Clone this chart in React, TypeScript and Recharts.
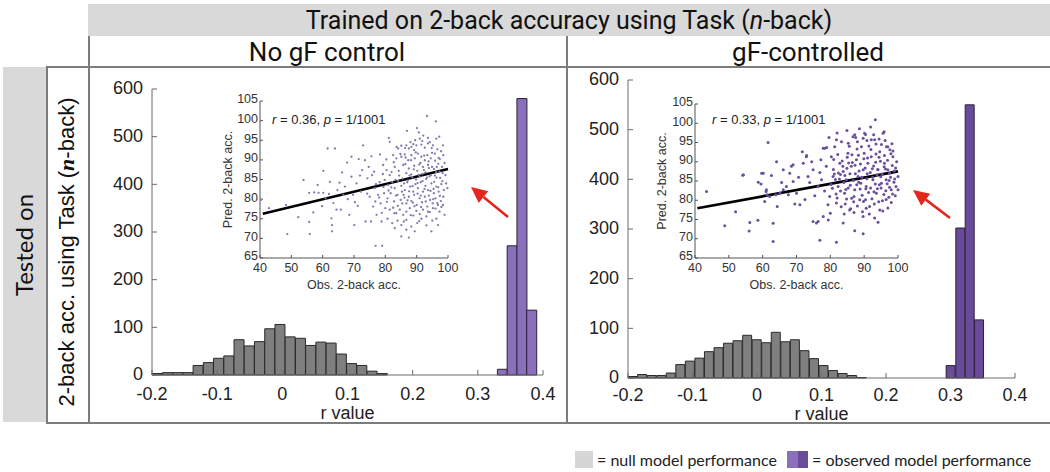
import React from 'react';
import { ComposedChart, Bar, Cell, XAxis, YAxis, ScatterChart, Scatter, ReferenceLine } from 'recharts';

const SANS = '"Liberation Sans", Arial, sans-serif';
const HEAD = 'Roboto, "Liberation Sans", sans-serif';
const ROUND = 'Lato, "Noto Sans", sans-serif';

// histogram axes
const rTicks = [-0.2, -0.1, 0, 0.1, 0.2, 0.3, 0.4];
const countTicks = [0, 100, 200, 300, 400, 500, 600];
// inset axes
const obsTicks = [40, 50, 60, 70, 80, 90, 100];
const predTicks = [65, 70, 75, 80, 85, 90, 95, 100, 105];

// No gF control
const nullBinsA = [-0.1922, -0.1765, -0.1608, -0.1451, -0.1294, -0.1137, -0.098, -0.0823, -0.0666, -0.0509, -0.0352, -0.0195, -0.0038, 0.0119, 0.0276, 0.0433, 0.059, 0.0747, 0.0904, 0.1061, 0.1218, 0.1375, 0.1532];
const nullCountsA = [3, 5, 5, 5, 20, 26, 35, 40, 74, 61, 70, 97, 106, 80, 77, 62, 69, 67, 44, 24, 20, 8, 3];
const obsBinsA = [0.3375, 0.3525, 0.3675, 0.3825];
const obsCountsA = [12, 271, 580, 136];

// gF-controlled
const nullBinsB = [-0.1926, -0.1778, -0.163, -0.1482, -0.1334, -0.1186, -0.1038, -0.089, -0.0742, -0.0594, -0.0446, -0.0298, -0.015, -0.0002, 0.0146, 0.0294, 0.0442, 0.059, 0.0738, 0.0886, 0.1034, 0.1182, 0.133, 0.1478, 0.1626];
const nullCountsB = [3, 7, 5, 5, 10, 27, 34, 40, 53, 61, 70, 75, 86, 77, 71, 92, 73, 77, 55, 39, 25, 15, 9, 5, 1];
const obsBinsB = [0.3005, 0.3155, 0.33, 0.3445];
const obsCountsB = [25, 302, 550, 117];

// regression lines in the insets [obs, pred]
const fitA = [[40.9, 76.3], [100, 87.7]];
const fitB = [[40.7, 77.9], [100, 87.5]];

// observed vs predicted 2-back accuracy, no gF control
const scatterA = [
  [93.3, 101.2], [96.1, 99.8], [90.1, 98.1], [86.9, 97.4], [81.1, 95.6], [81.4, 94.6], [72.9, 93.7], [61.6, 92.9], [63.9, 92.9], [90.7, 97.0], [91.0, 95.4], [93.6, 95.6], [96.3, 95.4],
  [84.1, 92.9], [85.1, 93.6], [86.7, 93.7], [87.5, 92.9], [88.3, 93.3], [89.2, 92.5], [89.9, 93.7], [91.5, 93.9], [92.6, 93.1], [93.6, 94.2], [95.2, 93.7], [96.6, 92.7], [98.4, 93.7],
  [78.3, 91.4], [69.2, 90.8], [71.5, 90.2], [73.5, 89.9],
  [82.5, 91.2], [83.5, 90.4], [85.1, 90.8], [86.2, 91.4], [87.3, 89.9], [88.3, 91.2], [89.4, 90.4], [90.4, 91.6], [91.5, 90.8], [92.6, 89.9], [93.4, 91.2], [94.5, 90.4], [95.8, 91.6], [97.0, 90.5], [98.5, 91.2],
  [60.2, 87.2], [66.2, 86.8], [69.2, 85.7], [72.6, 87.4], [74.7, 88.2], [76.4, 87.0], [79.3, 88.7], [80.4, 87.4], [81.4, 86.1], [83.0, 88.2], [84.3, 87.2], [85.7, 88.7], [86.7, 86.6], [87.5, 87.8], [88.3, 86.3], [89.2, 88.5], [90.2, 87.2], [91.0, 85.7], [92.0, 88.2], [92.8, 86.8], [93.6, 88.7], [94.5, 86.1], [95.5, 87.7], [96.3, 85.5], [97.3, 87.0], [98.1, 88.2], [99.2, 86.1],
  [53.9, 84.9], [58.4, 83.6], [62.3, 84.4], [67.1, 83.2], [70.8, 84.0], [74.3, 85.3], [75.8, 86.1], [78.2, 84.3], [79.8, 84.9], [80.9, 83.6], [82.2, 84.3], [83.0, 82.8], [84.1, 84.6], [85.1, 83.4], [86.2, 82.3], [87.0, 84.3], [87.9, 83.2], [88.9, 81.9], [89.6, 83.8], [90.4, 82.8], [91.3, 84.3], [92.0, 81.9], [92.8, 83.4], [93.6, 82.3], [94.7, 84.0], [95.5, 81.5], [96.3, 83.2], [97.0, 81.9], [97.9, 83.8], [98.7, 82.3], [99.8, 82.8],
  [55.7, 81.6], [57.3, 81.7], [58.7, 81.6], [60.2, 81.6], [60.9, 80.2], [62.0, 81.3], [64.7, 82.3], [66.6, 81.1], [69.7, 81.1], [72.2, 81.9], [75.0, 80.6], [76.6, 82.8], [77.7, 81.1], [79.6, 81.5], [80.7, 80.2], [81.7, 81.5], [82.8, 79.4], [83.9, 81.1], [84.9, 79.8], [85.8, 81.1], [86.7, 78.9], [87.5, 80.6], [88.3, 79.5], [89.2, 81.1], [90.0, 78.5], [90.9, 80.2], [91.7, 79.2], [92.6, 80.6], [93.4, 78.1], [94.3, 79.8], [95.1, 78.9], [96.0, 80.2], [96.8, 78.5], [97.7, 79.5], [98.5, 80.6],
  [40.3, 79.8], [42.9, 77.7], [48.3, 78.5], [64.4, 77.3], [65.8, 77.3], [70.3, 79.2], [76.1, 78.1], [78.5, 78.9], [80.0, 77.7], [81.4, 77.3], [82.5, 77.8], [83.5, 76.4], [84.6, 77.3], [85.7, 76.0], [86.7, 76.8], [87.8, 77.7], [88.9, 75.8], [89.9, 77.0], [91.0, 76.2], [92.0, 77.3], [93.1, 75.6], [94.2, 76.7], [95.2, 77.7], [96.3, 75.0], [97.3, 76.8], [98.4, 78.5],
  [52.2, 75.4], [55.7, 74.2], [62.8, 75.1], [68.5, 76.0], [73.7, 74.3], [75.4, 74.3], [77.2, 76.0], [78.8, 74.3], [80.7, 75.0], [82.2, 73.9], [83.9, 74.5], [85.1, 73.4], [86.7, 74.7], [88.3, 73.0], [90.2, 73.9], [91.5, 75.0], [93.1, 73.3], [95.0, 74.5], [96.8, 73.4],
  [48.7, 71.1], [55.9, 71.1], [63.0, 73.4], [63.0, 71.8], [70.1, 73.4], [83.0, 72.6], [86.7, 72.2], [89.4, 71.8], [94.7, 71.8], [85.1, 70.5], [87.5, 70.2], [76.9, 68.1], [79.0, 68.1],
  [85.5, 85.2], [86.4, 88.9], [87.2, 84.8], [88.6, 85.6], [89.1, 87.6], [89.8, 85.0], [90.6, 86.2], [91.2, 89.2], [91.9, 84.6], [92.3, 87.4], [93.0, 85.1], [93.8, 89.6], [94.1, 85.8], [94.9, 88.2], [95.6, 84.4], [96.2, 86.9], [96.9, 89.0], [97.5, 85.4], [98.2, 84.6],
  [86.1, 80.4], [87.6, 82.0], [88.8, 79.1], [90.3, 81.4], [91.4, 78.0], [92.5, 82.6], [93.9, 80.9], [95.4, 82.6], [96.6, 79.0], [97.4, 80.8], [84.4, 86.0], [83.2, 84.9], [82.0, 86.9], [81.0, 82.2], [79.4, 83.1], [78.0, 80.4], [77.0, 83.8], [84.0, 78.3], [85.3, 81.9], [89.5, 95.0], [92.1, 96.2], [94.8, 93.0], [88.0, 94.5], [95.9, 89.8], [97.8, 92.2],
  [79.2, 86.4], [80.3, 90.1], [81.9, 83.0], [82.7, 89.4], [83.4, 80.9], [84.8, 91.5], [85.4, 78.9], [86.0, 84.0], [86.5, 90.6], [87.1, 79.7], [87.7, 86.0], [88.2, 89.9], [88.7, 83.3], [89.3, 78.2], [89.7, 91.9], [90.3, 84.1], [90.8, 88.8], [91.3, 80.9], [91.8, 86.4], [92.4, 91.1],
  [92.9, 79.4], [93.3, 85.5], [93.9, 87.9], [94.4, 82.1], [94.9, 91.8], [95.3, 80.0], [95.8, 86.0], [96.4, 88.2], [96.9, 83.0], [97.4, 90.2], [97.9, 78.0], [98.3, 86.6], [98.9, 89.2], [99.4, 84.0], [86.3, 93.0], [88.9, 94.0], [91.8, 94.8], [94.2, 94.5], [97.2, 95.9], [83.6, 93.3],
  [80.5, 79.3], [82.9, 76.4], [85.9, 74.3], [88.1, 75.9], [90.8, 74.4], [93.6, 76.8], [96.0, 77.6], [98.9, 76.0], [78.9, 76.5], [76.8, 79.4], [74.2, 81.4], [71.2, 78.3], [68.0, 80.0], [65.4, 84.2], [63.4, 79.0], [59.8, 78.2], [57.0, 76.6], [67.8, 89.3], [71.9, 86.0], [75.6, 90.9],
];

// observed vs predicted 2-back accuracy, gF-controlled
const scatterB = [
  [43.4, 82.3], [48.8, 73.4], [52.0, 77.0], [54.1, 86.5], [56.0, 72.0], [56.2, 74.2], [58.6, 74.8], [59.5, 84.2], [61.6, 95.0], [63.1, 69.3], [63.1, 74.0], [64.1, 90.0],
  [60.2, 87.0], [61.1, 82.7], [60.6, 79.7], [62.1, 81.0], [65.1, 81.8], [66.1, 82.7], [67.0, 83.6], [68.0, 87.0], [68.5, 88.8], [69.0, 84.9], [70.0, 81.8], [71.0, 78.8], [72.0, 89.6], [72.9, 91.3], [73.4, 86.2], [74.9, 87.9], [75.9, 74.1], [76.4, 83.6], [77.4, 85.3], [77.9, 75.8], [78.4, 93.5], [78.8, 88.8], [79.3, 78.8], [79.8, 81.0],
  [80.3, 91.3], [80.8, 86.2], [81.3, 93.9], [81.8, 79.3], [82.3, 83.6], [82.8, 89.6], [83.3, 95.2], [83.8, 87.5], [84.2, 81.8], [84.7, 85.3], [85.2, 92.2], [85.7, 77.5], [86.2, 88.8], [86.7, 96.5], [87.2, 82.7], [87.7, 90.5], [88.2, 86.2], [88.7, 80.1], [89.2, 93.9], [89.7, 87.9],
  [90.1, 97.4], [90.6, 83.6], [91.1, 89.6], [91.6, 78.4], [92.1, 91.3], [92.6, 85.3], [93.1, 95.7], [93.6, 81.8], [94.1, 87.9], [94.6, 92.6], [95.1, 84.4], [95.6, 97.4], [96.0, 89.6], [96.5, 85.3], [97.0, 93.9], [97.5, 87.0], [98.0, 82.7], [98.5, 91.3], [100.0, 86.2], [100.0, 82.7],
  [93.3, 100.9], [95.9, 97.8], [92.8, 97.0], [90.4, 97.1], [87.2, 97.0], [81.8, 95.7], [85.3, 94.8], [77.9, 93.5], [78.9, 93.7], [87.5, 96.3], [89.7, 96.1], [92.1, 95.7], [94.4, 95.9], [95.1, 94.5], [96.6, 93.9], [97.6, 93.1],
  [73.0, 91.6], [69.0, 89.2], [66.1, 87.9], [59.7, 87.0], [54.3, 86.6], [58.7, 84.7], [61.0, 82.3], [61.3, 81.4], [63.9, 81.4],
  [74.9, 74.5], [76.4, 74.5], [76.9, 69.6], [79.4, 74.9], [81.8, 69.1], [83.8, 74.1], [87.2, 72.1], [89.7, 71.3], [93.1, 75.4], [94.1, 74.3], [89.7, 75.8],
  [80.2, 84.1], [80.9, 88.0], [81.5, 85.4], [82.0, 80.6], [82.4, 87.1], [83.0, 82.4], [83.5, 90.2], [84.0, 84.6], [84.4, 79.0], [84.9, 88.3], [85.3, 83.2], [85.8, 86.9], [86.3, 80.5], [86.8, 85.1], [87.3, 89.1], [87.8, 84.0], [88.3, 91.7], [88.8, 82.9], [89.3, 86.0], [89.8, 79.7],
  [90.3, 88.4], [90.8, 85.6], [91.3, 82.0], [91.8, 87.2], [92.3, 80.4], [92.8, 88.9], [93.3, 84.2], [93.8, 86.6], [94.3, 79.6], [94.8, 90.1], [95.3, 86.8], [95.8, 81.5], [96.3, 88.1], [96.8, 84.3], [97.3, 80.8], [97.8, 86.0], [98.3, 89.0], [98.8, 84.7], [99.2, 81.2], [99.3, 88.4],
  [85.0, 91.2], [86.0, 77.8], [88.0, 78.5], [90.0, 92.2], [92.0, 93.2], [94.0, 88.0], [96.0, 91.6], [98.0, 79.4], [83.0, 86.7], [81.0, 90.6], [87.0, 81.0], [89.0, 84.4], [91.0, 91.0], [93.0, 79.0], [95.0, 83.2], [97.0, 87.9], [99.0, 85.5],
  [84.6, 82.8], [86.5, 89.8], [88.5, 87.6], [90.5, 83.0], [92.5, 86.0], [94.5, 84.0], [96.5, 80.2], [98.5, 92.8], [91.5, 76.4], [89.5, 77.0], [95.5, 77.2], [93.5, 92.0], [97.5, 83.4],
  [80.6, 83.1], [81.2, 86.8], [81.7, 81.6], [82.2, 91.9], [82.7, 85.5], [83.2, 78.3], [83.7, 88.8], [84.3, 86.4], [84.8, 80.3], [85.4, 89.7], [85.9, 83.9], [86.4, 91.8], [86.9, 79.6], [87.4, 86.9], [87.9, 93.3], [88.4, 84.7], [88.9, 89.4], [89.4, 81.3], [89.9, 90.8], [90.4, 80.1],
  [90.9, 86.9], [91.4, 94.1], [91.9, 83.2], [92.4, 88.2], [92.9, 82.2], [93.4, 89.9], [93.9, 83.0], [94.4, 91.2], [94.9, 86.1], [95.4, 79.9], [95.9, 88.7], [96.4, 82.5], [96.9, 90.4], [97.4, 85.1], [97.9, 92.1], [98.4, 81.6], [98.9, 87.6], [99.4, 83.6], [99.6, 90.0], [85.6, 94.0],
  [88.0, 95.2], [90.8, 95.5], [93.5, 94.6], [96.2, 95.5], [98.2, 94.7], [84.1, 76.4], [87.0, 76.8], [90.6, 77.9], [94.6, 77.5], [97.0, 78.0], [80.0, 76.6], [78.3, 82.4], [76.9, 87.2], [75.4, 81.2], [73.9, 84.6], [72.5, 80.2], [70.6, 86.0], [69.5, 79.0], [67.6, 81.4], [65.6, 84.6],
  [64.3, 78.4], [62.6, 86.4], [71.7, 92.6], [74.5, 90.0], [77.2, 90.5], [79.6, 96.3], [82.0, 97.5], [84.9, 98.1], [88.6, 98.6], [91.9, 99.0],
];

const GREY_BAR = '#7f7f7f';
const PURPLE_A = '#8a6fbb';
const PURPLE_B = '#6a4a9b';
const AXIS = '#6a6a6a';
const LINE = '#7c7c7c';

function Histogram({ nullBins, nullCounts, obsBins, obsCounts, obsColor, box, margin, yWidth, xHeight, tickGap }) {
  const data = [
    ...nullBins.map((r, i) => ({ r, count: nullCounts[i], kind: 'null' })),
    ...obsBins.map((r, i) => ({ r, count: obsCounts[i], kind: 'obs' })),
  ];
  const tick = { fontSize: 18, fill: '#222', fontFamily: SANS };
  return (
    <div style={{ position: 'absolute', left: box.left, top: box.top }}>
      <ComposedChart width={box.width} height={box.height} data={data} margin={margin} barCategoryGap={0} barGap={0}>
        <XAxis
          type="number"
          dataKey="r"
          domain={[-0.2, 0.4]}
          ticks={rTicks}
          interval={0}
          height={xHeight}
          tickSize={-5}
          tickMargin={tickGap}
          axisLine={{ stroke: AXIS }}
          tickLine={{ stroke: AXIS }}
          tick={tick}
          label={{ value: 'r value', position: 'insideBottom', offset: 0, fontSize: 18, fill: '#222', fontFamily: SANS }}
        />
        <YAxis
          type="number"
          domain={[0, 600]}
          ticks={countTicks}
          interval={0}
          width={yWidth}
          tickSize={-5}
          tickMargin={14}
          axisLine={{ stroke: AXIS }}
          tickLine={{ stroke: AXIS }}
          tick={{ ...tick, dy: -1 }}
        />
        <Bar dataKey="count" isAnimationActive={false} stroke="#2a2a2a" strokeWidth={1}>
          {data.map((d, i) => (
            <Cell key={i} fill={d.kind === 'null' ? GREY_BAR : obsColor} stroke={d.kind === 'null' ? '#2a2a2a' : '#2b2238'} />
          ))}
        </Bar>
      </ComposedChart>
    </div>
  );
}

function Inset({ points, fit, dotColor, dotR, box, labelDx, stat, statPos }) {
  const data = points.map(([x, y]) => ({ x, y }));
  const tick = { fontSize: 12.5, fill: '#333', fontFamily: SANS };
  const lab = { fontSize: 12.5, fill: '#333', fontFamily: SANS };
  return (
    <div style={{ position: 'absolute', left: box.left, top: box.top, width: box.width, height: box.height }}>
      <ScatterChart width={box.width} height={box.height} margin={{ top: 9, right: 17, left: 0, bottom: 0 }}>
        <XAxis
          type="number"
          dataKey="x"
          domain={[40, 100]}
          ticks={obsTicks}
          interval={0}
          height={34}
          tickSize={-3}
          tickMargin={8}
          axisLine={{ stroke: '#555' }}
          tickLine={{ stroke: '#555' }}
          tick={tick}
          label={{ value: 'Obs. 2-back acc.', position: 'insideBottom', offset: 3, ...lab }}
        />
        <YAxis
          type="number"
          dataKey="y"
          domain={[65, 105]}
          ticks={predTicks}
          interval={0}
          width={55}
          tickSize={-3}
          tickMargin={5}
          axisLine={{ stroke: '#555' }}
          tickLine={{ stroke: '#555' }}
          tick={{ ...tick, dy: -2 }}
          label={{ value: 'Pred. 2-back acc.', angle: -90, position: 'center', dx: labelDx, ...lab }}
        />
        <Scatter
          data={data}
          isAnimationActive={false}
          shape={(p) => <circle cx={p.cx} cy={p.cy} r={dotR} fill={dotColor} />}
        />
        <ReferenceLine
          segment={[{ x: fit[0][0], y: fit[0][1] }, { x: fit[1][0], y: fit[1][1] }]}
          stroke="#000"
          strokeWidth={2.6}
        />
      </ScatterChart>
      <div style={{ position: 'absolute', left: statPos[0], top: statPos[1], fontFamily: SANS, fontSize: 13, lineHeight: '15px', color: '#222', whiteSpace: 'nowrap' }}>
        <i>r</i> = {stat}, <i>p</i> = 1/1001
      </div>
    </div>
  );
}

function VText({ cx, cy, style, children }) {
  return (
    <div style={{ position: 'absolute', left: cx, top: cy, transform: 'translate(-50%, -50%) rotate(-90deg)', whiteSpace: 'nowrap', lineHeight: 1, ...style }}>
      {children}
    </div>
  );
}

function Arrow({ tail, tip }) {
  const dx = tip[0] - tail[0];
  const dy = tip[1] - tail[1];
  const len = Math.hypot(dx, dy);
  const ux = dx / len;
  const uy = dy / len;
  const bx = tip[0] - 16 * ux;
  const by = tip[1] - 16 * uy;
  const px = -uy * 7.5;
  const py = ux * 7.5;
  return (
    <g>
      <line x1={tail[0]} y1={tail[1]} x2={bx} y2={by} stroke="#e4261c" strokeWidth={2.6} />
      <polygon points={`${tip[0]},${tip[1]} ${bx + px},${by + py} ${bx - px},${by - py}`} fill="#e4261c" />
    </g>
  );
}

const hLine = (x, y, w) => <div style={{ position: 'absolute', left: x, top: y, width: w, height: 1.5, background: LINE }} />;
const vLine = (x, y, h) => <div style={{ position: 'absolute', left: x, top: y, width: 1.5, height: h, background: LINE }} />;

export default function App() {
  return (
    <div style={{ position: 'relative', width: 1050, height: 472, background: '#fff', overflow: 'hidden' }}>
      <style>{'body{margin:0}'}</style>

      {/* header rows */}
      <div style={{ position: 'absolute', left: 88, top: 4, width: 962, height: 32, background: '#d9d9d9', display: 'flex', alignItems: 'center', justifyContent: 'center', fontFamily: HEAD, fontSize: 25, color: '#111' }}>
        Trained on 2-back accuracy using Task (<i>n</i>-back)
      </div>
      <div style={{ position: 'absolute', left: 88, top: 36, width: 478, height: 31, display: 'flex', alignItems: 'center', justifyContent: 'center', fontFamily: HEAD, fontSize: 26, color: '#111' }}>
        No gF control
      </div>
      <div style={{ position: 'absolute', left: 566, top: 36, width: 484, height: 31, display: 'flex', alignItems: 'center', justifyContent: 'center', fontFamily: HEAD, fontSize: 26, color: '#111' }}>
        gF-controlled
      </div>

      {/* row labels */}
      <div style={{ position: 'absolute', left: 3, top: 67, width: 43, height: 355, background: '#d9d9d9' }} />
      <VText cx={24} cy={245} style={{ fontFamily: ROUND, fontSize: 24, color: '#111' }}>Tested on</VText>
      <VText cx={67} cy={252} style={{ fontFamily: SANS, fontSize: 22, color: '#111' }}>
        2-back acc. using Task (<b style={{ fontFamily: '"Liberation Serif", serif', fontStyle: 'italic' }}>n</b>-back)
      </VText>

      <Histogram
        nullBins={nullBinsA}
        nullCounts={nullCountsA}
        obsBins={obsBinsA}
        obsCounts={obsCountsA}
        obsColor={PURPLE_A}
        box={{ left: 88, top: 67, width: 478, height: 366 }}
        margin={{ top: 22, right: 23, left: 0, bottom: 14 }}
        yWidth={64}
        xHeight={44}
        tickGap={17}
      />
      <Histogram
        nullBins={nullBinsB}
        nullCounts={nullCountsB}
        obsBins={obsBinsB}
        obsCounts={obsCountsB}
        obsColor={PURPLE_B}
        box={{ left: 566, top: 67, width: 484, height: 366 }}
        margin={{ top: 13, right: 35, left: 0, bottom: 13 }}
        yWidth={62}
        xHeight={42}
        tickGap={15}
      />

      {/* frame lines */}
      {hLine(46, 66, 1004)}
      {hLine(46, 422, 1004)}
      {vLine(46, 66, 357)}
      {vLine(88, 36, 387)}
      {vLine(566, 36, 387)}

      <Inset
        points={scatterA}
        fit={fitA}
        dotColor="#8578b0"
        dotR={1.15}
        box={{ left: 205, top: 92, width: 260, height: 200 }}
        labelDx={-4.5}
        stat="0.36"
        statPos={[67, 20]}
      />
      <Inset
        points={scatterB}
        fit={fitB}
        dotColor="#6b4f9e"
        dotR={1.5}
        box={{ left: 640, top: 95, width: 275, height: 197 }}
        labelDx={-6}
        stat="0.33"
        statPos={[72, 17]}
      />

      <svg width={1050} height={472} style={{ position: 'absolute', left: 0, top: 0, pointerEvents: 'none' }}>
        <Arrow tail={[508, 217]} tip={[471, 187]} />
        <Arrow tail={[950, 218]} tip={[913, 190]} />
      </svg>

      {/* legend */}
      <div style={{ position: 'absolute', left: 575, top: 451, width: 18, height: 17, background: '#d6d6d6' }} />
      <div style={{ position: 'absolute', left: 597, top: 450, fontFamily: ROUND, fontSize: 16, lineHeight: '19px', color: '#222', whiteSpace: 'nowrap' }}>
        = null model performance
      </div>
      <div style={{ position: 'absolute', left: 787, top: 451, width: 11, height: 17, background: PURPLE_A }} />
      <div style={{ position: 'absolute', left: 798, top: 451, width: 10, height: 17, background: PURPLE_B }} />
      <div style={{ position: 'absolute', left: 812, top: 450, fontFamily: ROUND, fontSize: 16, lineHeight: '19px', color: '#222', whiteSpace: 'nowrap' }}>
        = observed model performance
      </div>
    </div>
  );
}
